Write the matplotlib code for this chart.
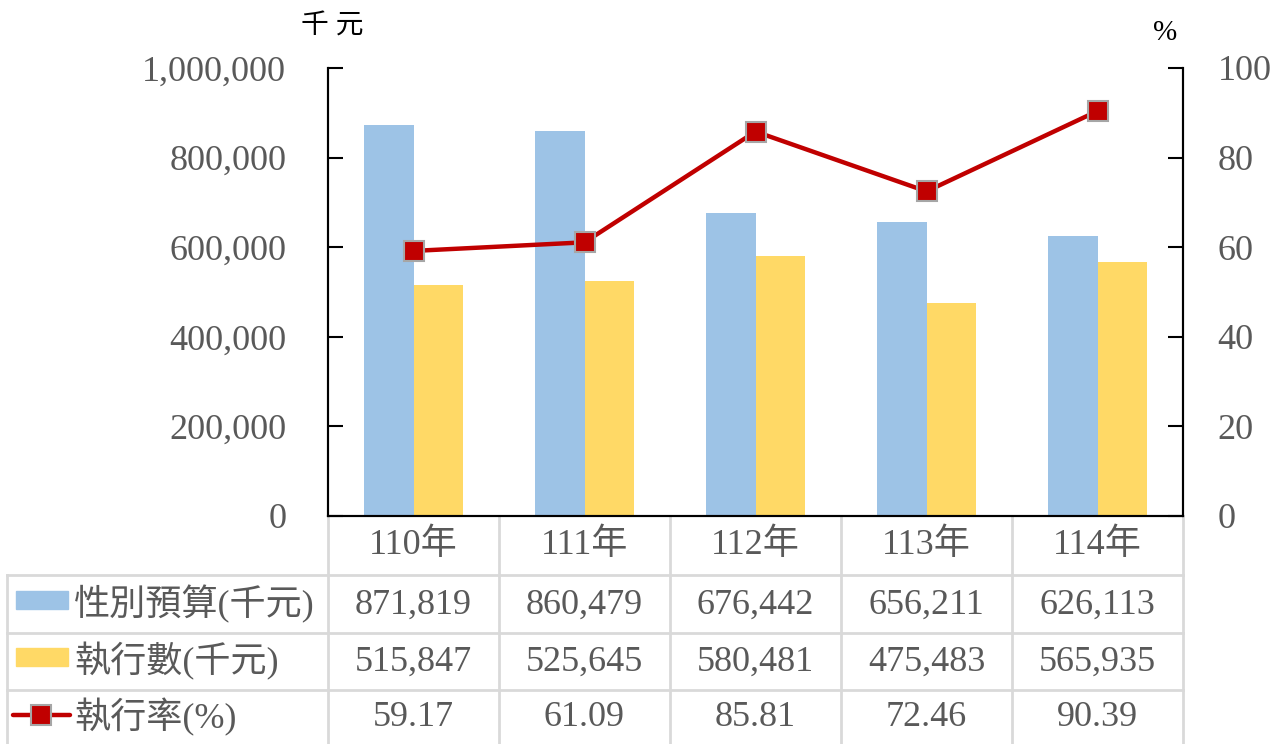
import numpy as np
import matplotlib
matplotlib.use('Agg')
from matplotlib import pyplot as plt
from matplotlib.patches import Rectangle

plt.rcParams['font.family'] = ['Liberation Serif', 'Noto Sans CJK TC', 'DejaVu Sans']

# data
years = ['110年', '111年', '112年', '113年', '114年']
budget = [871819, 860479, 676442, 656211, 626113]
executed = [515847, 525645, 580481, 475483, 565935]
rate = [59.17, 61.09, 85.81, 72.46, 90.39]
row_labels = ['性別預算(千元)', '執行數(千元)', '執行率(%)']

blue = '#9DC3E6'
yellow = '#FFD966'
red = '#C00000'
gray_txt = '#595959'
grid_c = '#D9D9D9'

W, H = 1288, 744
fig = plt.figure(figsize=(W / 100, H / 100), dpi=100)

# plot area in pixels
x0, x1, ytop, ybot = 328, 1183, 68, 516
ax = fig.add_axes([x0 / W, 1 - ybot / H, (x1 - x0) / W, (ybot - ytop) / H])

x = np.arange(len(years))
bw = 0.287
ax.bar(x - bw / 2, budget, bw, color=blue, zorder=2)
ax.bar(x + bw / 2, executed, bw, color=yellow, zorder=2)
ax.set_xlim(-0.5, len(years) - 0.5)
ax.set_ylim(0, 1000000)
ax.set_yticks(np.arange(0, 1000001, 200000))
ax.set_yticklabels(['{:,}'.format(v) for v in range(0, 1000001, 200000)])
ax.set_xticks([])
ax.tick_params(axis='y', direction='in', length=11, width=1.5, pad=30,
               labelsize=26, labelcolor=gray_txt)
ax.spines['top'].set_visible(False)
for s in ['left', 'right', 'bottom']:
    ax.spines[s].set_linewidth(1.5)

ax2 = ax.twinx()
ax2.plot(x, rate, color=red, lw=3.2, marker='s', markersize=15,
         markerfacecolor=red, markeredgecolor='#A6A6A6', markeredgewidth=1.5, zorder=3)
ax2.set_ylim(0, 100)
ax2.set_yticks(np.arange(0, 101, 20))
ax2.tick_params(axis='y', direction='in', length=11, width=1.5, pad=25,
                labelsize=26, labelcolor=gray_txt)
ax2.spines['top'].set_visible(False)
for s in ['left', 'right', 'bottom']:
    ax2.spines[s].set_linewidth(1.5)

fig.text(332 / W, 1 - 27 / H, '千 元', ha='center', va='center', fontsize=20, color='black')
fig.text(1165 / W, 1 - 33 / H, '%', ha='center', va='center', fontsize=21, color='black')

# data table below the chart (pixel coordinates)
tb = fig.add_axes([0, 0, 1, 1], zorder=-1)
tb.set_xlim(0, W)
tb.set_ylim(H, 0)
tb.axis('off')

col_edges = np.linspace(x0, x1, len(years) + 1)
row_edges = [516, 575, 633, 690, 744]
lw = 2
for cx in col_edges:
    tb.plot([cx, cx], [516, 744], color=grid_c, lw=lw)
tb.plot([7, 7], [575, 744], color=grid_c, lw=lw)
for ry in row_edges[1:4]:
    tb.plot([7, x1], [ry, ry], color=grid_c, lw=lw)

centers = (col_edges[:-1] + col_edges[1:]) / 2
row_mid = [(row_edges[i] + row_edges[i + 1]) / 2 for i in range(4)]
for i, c in enumerate(centers):
    tb.text(c, row_mid[0], years[i], ha='center', va='center', fontsize=26, color=gray_txt)
    tb.text(c, row_mid[1] + 1, '{:,}'.format(budget[i]), ha='center', va='center', fontsize=26, color=gray_txt)
    tb.text(c, row_mid[2] + 1, '{:,}'.format(executed[i]), ha='center', va='center', fontsize=26, color=gray_txt)
    tb.text(c, row_mid[3] + 1, '{:.2f}'.format(rate[i]), ha='center', va='center', fontsize=26, color=gray_txt)

for j, lab in enumerate(row_labels):
    tb.text(74, row_mid[j + 1], lab, ha='left', va='center', fontsize=26, color=gray_txt)

tb.add_patch(Rectangle((16, 591), 52, 18, color=blue))
tb.add_patch(Rectangle((16, 648), 52, 18, color=yellow))
tb.plot([13, 70], [715, 715], color=red, lw=3.2, solid_capstyle='round')
tb.plot([41.5], [715], marker='s', markersize=15, color=red,
        markeredgecolor='#A6A6A6', markeredgewidth=1.5)

fig.savefig('out.png', dpi=100)
